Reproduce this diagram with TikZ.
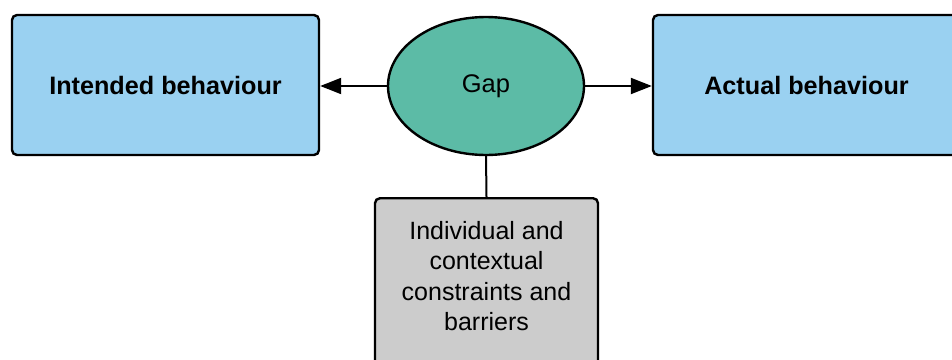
\documentclass[tikz,border=0pt]{standalone}
\usepackage{fontspec}
\setmainfont{Liberation Sans}
\usetikzlibrary{shapes.geometric,arrows.meta}
\definecolor{boxblue}{HTML}{9AD1F1}
\definecolor{gapgreen}{HTML}{5CBBA6}
\definecolor{boxgrey}{HTML}{CCCCCC}
\tikzset{
  outline/.style={draw=black, line width=2.4pt},
  behaviourbox/.style={outline, fill=boxblue, rectangle, rounded corners=5pt,
    minimum width=307pt, minimum height=140pt, inner sep=0pt,
    font=\fontsize{25.2}{30}\selectfont\bfseries},
  gapnode/.style={outline, fill=gapgreen, ellipse, minimum width=196pt,
    minimum height=138pt, inner sep=0pt, font=\fontsize{25.5}{30}\selectfont},
  barrierbox/.style={outline, fill=boxgrey, rectangle, rounded corners=5pt,
    minimum width=223pt, minimum height=180pt, inner sep=0pt},
  barriertext/.style={align=center, inner sep=0pt,
    font=\fontsize{25}{30.5}\selectfont},
  link/.style={draw=black, line width=2pt},
  tip/.style={-{Triangle[length=21pt,width=16pt]}}
}
\begin{document}
\begin{tikzpicture}[x=1pt,y=-1pt]
  \useasboundingbox (0,0) rectangle (952,359);
  \clip (0,0) rectangle (952,359);
  \node[behaviourbox] (intended) at (165.5,85) {Intended behaviour};
  \node[behaviourbox] (actual) at (806.5,85) {Actual behaviour};
  \node[gapnode] (gap) at (486,86) {Gap};
  \node[barrierbox, anchor=north] (barrier) at (486.5,197) {};
  \node[barriertext] (barriertxt) at (486.5,276)
    {Individual and\\contextual\\constraints and\\barriers};
  \draw[link, tip] (gap.west) -- (intended.east |- gap.west);
  \draw[link, tip] (gap.east) -- (actual.west |- gap.east);
  \draw[link] (gap.south) -- (barrier.north);
\end{tikzpicture}
\end{document}
